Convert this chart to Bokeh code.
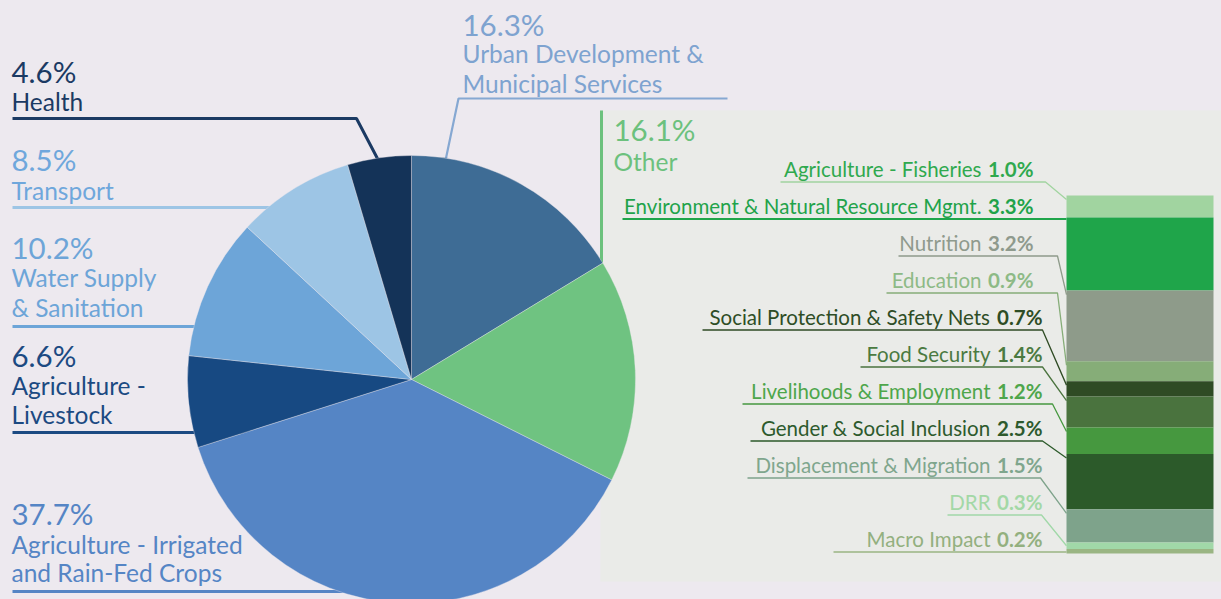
import numpy as np
from bokeh.plotting import figure
from bokeh.models import Range1d
from bokeh.core.properties import value
from bokeh.embed import file_html
from bokeh.resources import INLINE

# ---------------- data ----------------
pie_names = [["Urban Development &", "Municipal Services"], ["Other"],
             ["Agriculture - Irrigated", "and Rain-Fed Crops"], ["Agriculture -", "Livestock"],
             ["Water Supply", "& Sanitation"], ["Transport"], ["Health"]]
pie_values = [16.3, 16.1, 37.7, 6.6, 10.2, 8.5, 4.6]
pie_colors = ["#3e6c95", "#6fc381", "#5585c5", "#174982", "#6da5d8", "#9dc5e5", "#143358"]
pie_text_colors = ["#7ea3d0", "#6cc17d", "#5585c5", "#1c4a82", "#6da5d8", "#6fa7dc", "#1b3a63"]
pie_line_colors = ["#86a8d2", "#6cc17d", "#5585c5", "#1c4a82", "#6da5d8", "#9dc5e5", "#1b3a63"]

other_names = ["Agriculture - Fisheries", "Environment & Natural Resource Mgmt.", "Nutrition",
               "Education", "Social Protection & Safety Nets", "Food Security",
               "Livelihoods & Employment", "Gender & Social Inclusion",
               "Displacement & Migration", "DRR", "Macro Impact"]
other_values = [1.0, 3.3, 3.2, 0.9, 0.7, 1.4, 1.2, 2.5, 1.5, 0.3, 0.2]
other_bar_colors = ["#a1d4a0", "#1fa54a", "#8e9b8a", "#86ad78", "#2f4b24", "#4a733e",
                    "#46983f", "#2c5a2a", "#7ea38b", "#a1d8a8", "#9ab583"]
other_text_colors = ["#2fa94e", "#1fa34a", "#8f9a8d", "#8dba86", "#2e4d25", "#4b7a41",
                     "#4ea64b", "#2d5a2d", "#7fa68d", "#a3d8a6", "#93b07f"]

# ---------------- layout ----------------
FONT = value("Lato")
BG = "#ede9ef"
PANEL = "#eaebe8"
W, H = 1221, 599
PCT_FS, NAME_FS, SMALL_FS = 29.5, 24.5, 20.5
SHIFT = 0.37  # baseline correction (fraction of font size)


def Y(v):
    return H - np.asarray(v, dtype=float)


def TY(baseline, fs):
    return float(Y(baseline - SHIFT * fs))


p = figure(width=W, height=H, x_range=Range1d(0, W), y_range=Range1d(0, H),
           output_backend="svg", toolbar_location=None, min_border=0)
p.axis.visible = False
p.grid.visible = False
p.outline_line_color = None
p.background_fill_color = BG
p.border_fill_color = BG

# right panel
p.quad(left=[600], right=[1221], top=[float(Y(110))], bottom=[float(Y(581))],
       fill_color=PANEL, line_color=None)

# pie label layout: (x, baselines, leader xs, leader ys, leader width)
pie_layout = [
    (462, [35, 62.5, 92], [727, 458, 445], [98, 98, 160], 2.2),
    (613, [140, 170], [601, 601], [110, 262], 3),
    (11, [524, 553, 581.5], [12, 380], [591, 591], 3),
    (11, [366, 394, 423], [12, 260], [432, 432], 3),
    (11, [258, 286.5, 316], [12, 260], [326, 326], 3),
    (11, [170, 199], [12, 300], [207, 207], 3),
    (11, [82, 110], [12, 356, 378], [118, 118, 160], 3),
]

for i, (x, bls, lx, ly, lw) in enumerate(pie_layout):
    p.line(x=lx, y=Y(ly), line_color=pie_line_colors[i], line_width=lw)

# pie
cx, cy, r = 411, float(Y(379)), 224
frac = np.cumsum([0] + pie_values) / sum(pie_values)
starts = np.pi / 2 - 2 * np.pi * frac[1:]
ends = np.pi / 2 - 2 * np.pi * frac[:-1]
p.wedge(x=cx, y=cy, radius=r, start_angle=starts, end_angle=ends, direction="anticlock",
        fill_color=pie_colors, line_color=BG, line_width=0.6, line_alpha=0.6)

# pie labels
for i, (x, bls, lx, ly, lw) in enumerate(pie_layout):
    p.text(x=[x], y=[TY(bls[0], PCT_FS)], text=[f"{pie_values[i]:.1f}%"],
           text_font=FONT, text_font_size=f"{PCT_FS}px", text_color=pie_text_colors[i],
           text_baseline="alphabetic", text_align="left")
    for j, line in enumerate(pie_names[i]):
        p.text(x=[x], y=[TY(bls[j + 1], NAME_FS)], text=[line],
               text_font=FONT, text_font_size=f"{NAME_FS}px", text_color=pie_text_colors[i],
               text_baseline="alphabetic", text_align="left")

# stacked bar of "Other"
bx0, bx1, btop = 1066, 1213, 195
k = 358 / sum(other_values)
ocum = np.cumsum([0] + other_values)
seg_top = btop + k * ocum[:-1]
seg_bot = btop + k * ocum[1:]

line_start = [780, 622, 898, 886, 702, 860, 742, 750, 747, 947, 833]
line_bend = [1045, None, 1057, 1057, 1042, 1042, 1052, 1042, 1040, 1041, None]

for i, name in enumerate(other_names):
    bl = 176.5 + 37 * i
    xe = 1033 if i < 4 else 1042
    uy = bl + 5
    if line_bend[i] is None:
        xs, ys = [line_start[i], bx0], [uy, uy]
    else:
        ey = seg_top[i] + min(4, (seg_bot[i] - seg_top[i]) / 2)
        xs, ys = [line_start[i], line_bend[i], bx0], [uy, uy, ey]
    p.line(x=xs, y=Y(ys), line_color=other_bar_colors[i], line_width=2 if i == 1 else 1.3)
    p.text(x=[xe], y=[TY(bl, SMALL_FS)], text=[f"{other_values[i]:.1f}%"], text_font=FONT,
           text_font_size=f"{SMALL_FS}px", text_font_style="bold", text_color=other_text_colors[i],
           text_baseline="alphabetic", text_align="right")
    p.text(x=[xe - 52], y=[TY(bl, SMALL_FS)], text=[name], text_font=FONT,
           text_font_size=f"{SMALL_FS}px", text_color=other_text_colors[i],
           text_baseline="alphabetic", text_align="right")

p.quad(left=bx0, right=bx1, top=Y(seg_top), bottom=Y(seg_bot),
       fill_color=other_bar_colors, line_color=None)

html = file_html(p, INLINE)
html = html.replace("<head>", "<head><style>body{background:#ede9ef;}</style>", 1)
open("out.html", "w").write(html)
